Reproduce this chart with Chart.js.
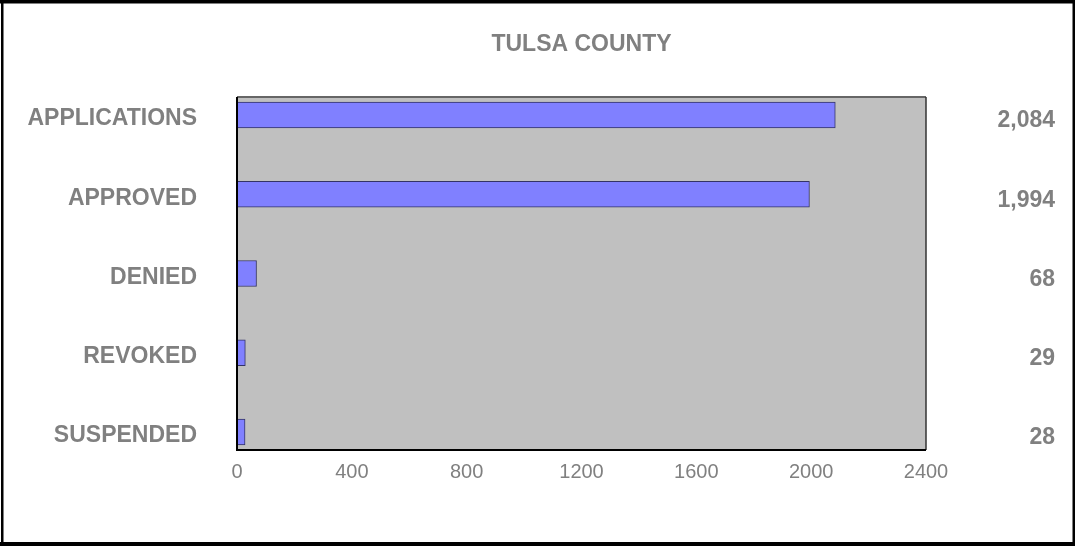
<!DOCTYPE html>
<html>
<head>
<meta charset="utf-8">
<script src="https://cdn.jsdelivr.net/npm/chart.js@4"></script>
<style>
  html, body { margin: 0; padding: 0; background: #fff; }
  #wrap { width: 1075px; height: 546px; }
</style>
</head>
<body>
<div id="wrap"><canvas id="tulsa" width="1075" height="546"></canvas></div>
<script>
// ---- data ----
const categories = ["APPLICATIONS", "APPROVED", "DENIED", "REVOKED", "SUSPENDED"];
const counts = [2084, 1994, 68, 29, 28];
const xTicks = [0, 400, 800, 1200, 1600, 2000, 2400];

const grey = "#808080";
const fontFamily = "'Liberation Sans', Arial, sans-serif";

// gray plot box, its edges, and the outer frame
const boxPlugin = {
  id: "box",
  beforeDraw(chart) {
    const { ctx, chartArea: a } = chart;
    ctx.save();
    ctx.fillStyle = "#c0c0c0";
    ctx.fillRect(a.left, a.top - 18, a.right - a.left, a.bottom - a.top + 36);
    ctx.restore();
  },
  afterDatasetsDraw(chart) {
    const { ctx, chartArea: a } = chart;
    const top = a.top - 18, bottom = a.bottom + 18;
    ctx.save();
    ctx.strokeStyle = "#666";
    ctx.lineWidth = 2;
    ctx.beginPath(); ctx.moveTo(a.left, top); ctx.lineTo(a.right, top); ctx.stroke();
    ctx.strokeStyle = "#333";
    ctx.lineWidth = 1.5;
    ctx.beginPath(); ctx.moveTo(a.right, top); ctx.lineTo(a.right, bottom); ctx.stroke();
    ctx.strokeStyle = "#000";
    ctx.lineWidth = 2;
    ctx.beginPath(); ctx.moveTo(a.left, top); ctx.lineTo(a.left, bottom); ctx.lineTo(a.right, bottom); ctx.stroke();
    ctx.restore();
  },
  afterDraw(chart) {
    const { ctx, width, height } = chart;
    ctx.save();
    ctx.fillStyle = "#000";
    ctx.fillRect(0, 0, width, 3.5);
    ctx.fillRect(1, 0, 2.5, height);
    ctx.fillRect(width - 2.5, 0, 2.5, height);
    ctx.fillRect(0, height - 4, width, 4);
    ctx.restore();
  }
};

new Chart(document.getElementById("tulsa").getContext("2d"), {
  type: "bar",
  data: {
    labels: categories,
    datasets: [{
      data: counts,
      backgroundColor: "#8080ff",
      borderColor: "#333366",
      borderWidth: 1,
      barThickness: 26,
      clip: false
    }]
  },
  plugins: [boxPlugin],
  options: {
    indexAxis: "y",
    responsive: false,
    animation: false,
    layout: { padding: { top: 4, bottom: 34, left: 0, right: 20 } },
    plugins: {
      legend: { display: false },
      tooltip: { enabled: false },
      title: {
        display: true,
        fullSize: false, // centre over the plot box, not the whole canvas
        text: "TULSA COUNTY",
        color: grey,
        font: { family: fontFamily, size: 23, weight: "bold" },
        padding: { top: 27, bottom: 56.4 }
      }
    },
    scales: {
      x: {
        min: 0,
        max: 2400,
        afterBuildTicks(scale) { scale.ticks = xTicks.map(v => ({ value: v })); },
        grid: { display: false, drawTicks: false },
        border: { display: false },
        ticks: {
          padding: 28,
          color: grey,
          maxRotation: 0,
          font: { family: fontFamily, size: 20 },
          callback: v => String(v)
        }
      },
      y: {
        position: "left",
        offset: false,
        grid: { display: false, drawTicks: false, offset: false },
        border: { display: false },
        afterFit(scale) { scale.width = 237; },
        ticks: {
          padding: 40,
          labelOffset: 4,
          color: grey,
          font: { family: fontFamily, size: 23, weight: "bold" }
        }
      },
      y2: {
        type: "category",
        position: "right",
        labels: counts.map(v => v.toLocaleString("en-US")),
        offset: false,
        grid: { display: false, drawTicks: false, offset: false },
        border: { display: false },
        afterFit(scale) { scale.width = 129; },
        ticks: {
          padding: 20,
          labelOffset: 6,
          crossAlign: "far",
          color: grey,
          font: { family: fontFamily, size: 23, weight: "bold" }
        }
      }
    }
  }
});
</script>
</body>
</html>
